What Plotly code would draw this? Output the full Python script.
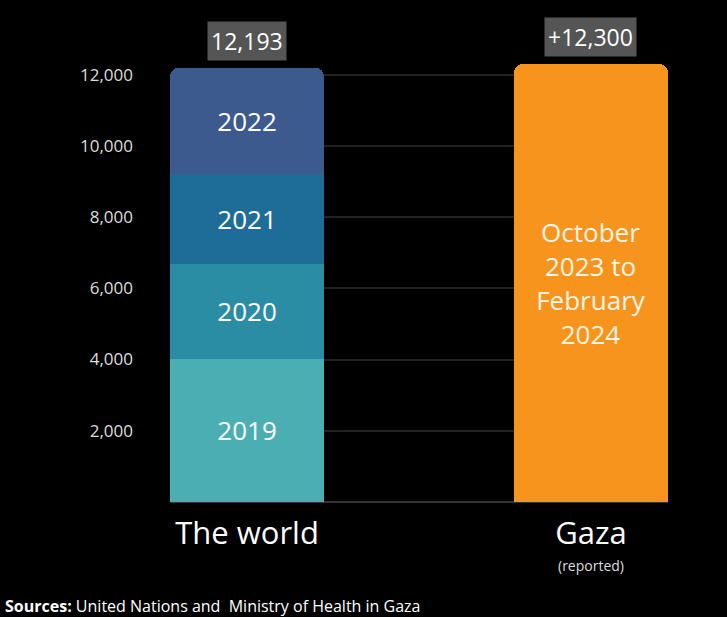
import plotly.graph_objects as go

categories = ["The world", "Gaza"]
tick_labels = ["The world", "Gaza"]
gaza_note = "(reported)"
world_years = ["2019", "2020", "2021", "2022"]
world_values = [4019, 2674, 2515, 2985]
world_colors = ["#4AAEB2", "#2A8DA3", "#1E6C98", "#3D5A8E"]
gaza_value = 12300
gaza_label = "October<br>2023 to<br>February<br>2024"
total_labels = ["12,193", "+12,300"]
y_ticks = [2000, 4000, 6000, 8000, 10000, 12000]

FONT = "Open Sans"

fig = go.Figure()
for yr, val, col in zip(world_years, world_values, world_colors):
    fig.add_trace(go.Bar(
        x=[categories[0]], y=[val], name=yr, marker_color=col,
        marker_line_width=0,
        text=[yr], texttemplate="%{text}", textposition="inside",
        insidetextanchor="middle",
        textfont=dict(family=FONT, size=26, color="white"),
        hoverinfo="skip",
    ))
fig.add_trace(go.Bar(
    x=[categories[1]], y=[gaza_value], name="Gaza", marker_color="#F7941E",
    marker_line_width=0,
    text=[gaza_label], texttemplate="%{text}", textposition="inside",
    insidetextanchor="middle",
    textfont=dict(family=FONT, size=26, color="#FFF5E6"),
    hoverinfo="skip",
))

totals = [sum(world_values), gaza_value]
for cat, tot, lab in zip(categories, totals, total_labels):
    fig.add_annotation(
        x=cat, y=tot, text=lab, showarrow=False, yanchor="bottom", yshift=7,
        font=dict(family=FONT, size=23, color="white"),
        bgcolor="#555555", borderpad=3,
    )

fig.add_annotation(
    x=categories[1], yref="paper", y=0, yanchor="middle", yshift=-63,
    showarrow=False, text=gaza_note,
    font=dict(family=FONT, size=14, color="#DDDDDD"),
)

fig.add_annotation(
    xref="paper", yref="paper", x=0, y=0, xanchor="left", yanchor="middle",
    xshift=-167, yshift=-104, showarrow=False,
    text="<b>Sources:</b> United Nations and  Ministry of Health in Gaza",
    font=dict(family=FONT, size=16, color="white"),
)

fig.update_layout(
    width=727, height=617,
    barmode="stack", bargap=0.552, barcornerradius=9,
    paper_bgcolor="black", plot_bgcolor="black",
    showlegend=False,
    margin=dict(l=170, r=59, t=39, b=115),
    font=dict(family=FONT, color="white"),
)
fig.update_xaxes(
    tickvals=categories, ticktext=tick_labels,
    range=[-0.224, 1.224], showgrid=False, zeroline=False, showline=False,
    ticks="", tickfont=dict(family=FONT, size=31, color="white"),
    ticklabelstandoff=10,
)
fig.update_yaxes(
    range=[0, 13000], tickvals=y_ticks, tickformat=",",
    showgrid=True, gridcolor="#222222", gridwidth=1.5,
    zeroline=True, zerolinecolor="#333333", zerolinewidth=2,
    tickfont=dict(family=FONT, size=17, color="#DDDDDD"),
    ticklabelstandoff=36, ticks="",
)

fig.write_html(
    "out.html",
    config={"displayModeBar": False},
    post_script="document.body.style.margin='0';document.body.style.background='black';",
)
